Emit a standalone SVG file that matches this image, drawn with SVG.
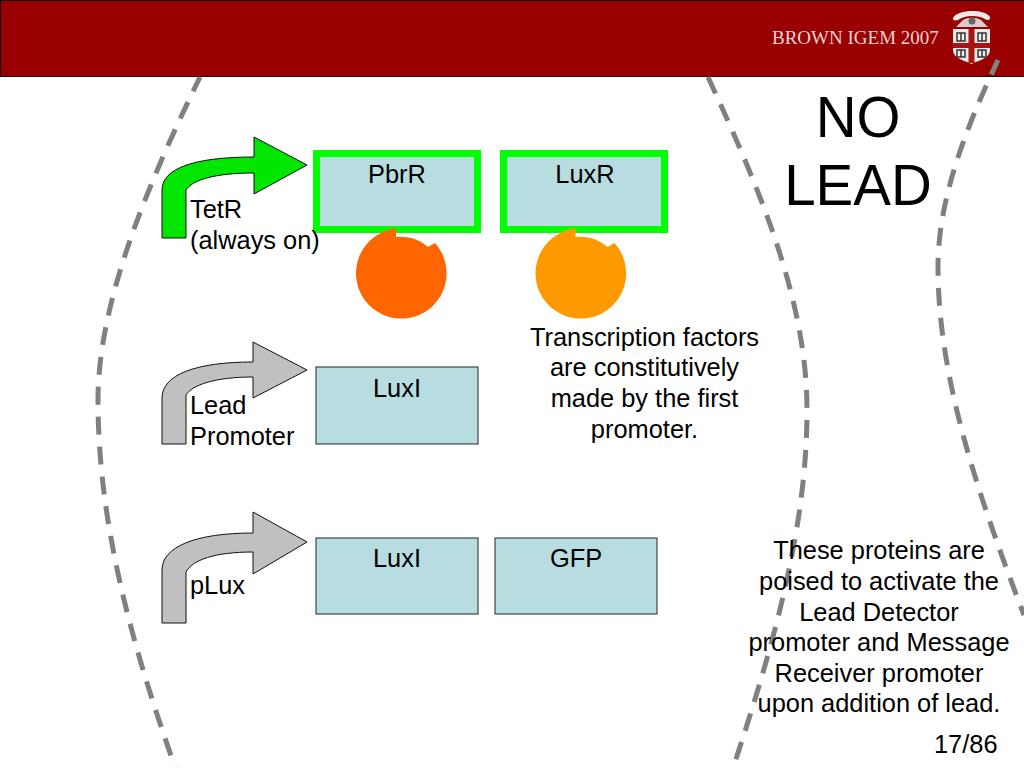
<svg xmlns="http://www.w3.org/2000/svg" width="1024" height="768" viewBox="0 0 1024 768">
<style>
text{font-family:"Liberation Sans",Arial,sans-serif;font-size:25.400px;fill:#000}
.m{text-anchor:middle}
.gene{fill:#b7dde0;stroke:#222;stroke-width:1}
.on{fill:#b7dde0;stroke:#00ff00;stroke-width:7}
.arc{fill:none;stroke:#808080;stroke-width:5;stroke-dasharray:18 12}
.prom{stroke:#111;stroke-width:1}
.book{fill:#eee;stroke:#333;stroke-width:1.500}
</style>
<defs>
<path id="prot" d="M435 243A45.300 45.300 0 1 1 396 228.300L396 237C410 236 420 240 428 247Z"/>
</defs>
<rect width="1024" height="768" fill="#fff"/>
<g id="header">
<rect x="0.500" y="0.500" width="1024" height="76" fill="#990000" stroke="#111" stroke-width="1"/>
<text x="772" y="44" style="font-family:'Liberation Serif',serif;font-size:19px;fill:#eed2d2">BROWN IGEM 2007</text>
<g id="logo">
<path d="M953 29H990V50C990 58 980 60 971.500 64C963 60 953 58 953 50Z" fill="#f2e8e8"/>
<path d="M968.500 29H974.500V43H990V48H974.500V63H968.500V48H953V43H968.500Z" fill="#a81414"/>
<path class="book" d="M957 33H965V41H957ZM961 33V41M978 33H986V41H978ZM982 33V41M957 50H965V57H957ZM961 50V57M978 50H986V57H978ZM982 50V57"/>
<path d="M953 18C958 9 985 9 990 17C991 20 987 21 985 19C978 15 965 15 958 20C955 21 952 20 953 18Z" fill="#f2e8e8"/>
<path d="M956 27L963 20C968 17 976 17 981 20L988 27Z" fill="#d8cccc"/>
<circle cx="972" cy="21" r="3.500" fill="#666"/>
</g>
</g>
<g id="dashes">
<path class="arc" stroke-dashoffset="2" d="M200 77C150 180 98 300 98 400C98 520 130 640 175 767"/>
<path class="arc" d="M708 77C760 190 807 300 807 410C807 530 772 650 733 768"/>
<path class="arc" stroke-dashoffset="2" d="M998 60C965 130 938 200 938 267C938 380 980 500 1024 615"/>
</g>
<g id="connectors">
<path class="prom" fill="#00e600" d="M162 238V190C162 168 195 157 254 157V137L307 165L254 194V173C215 173 192 180 186 190V238Z"/>
<path class="prom" fill="#c0c0c0" d="M162 444V398C162 375 195 362 253 362V342L307 370L253 398V377C215 377 192 385 186 395V444Z"/>
<path class="prom" fill="#c0c0c0" d="M162 623V570C162 547 195 533 253 533V512L307 542L253 574V552C215 552 192 560 186 572V623Z"/>
</g>
<g id="node-pbrr"><rect class="on" x="316.500" y="153.500" width="161" height="76"/><text class="m" x="397" y="183">PbrR</text></g>
<g id="node-luxr"><rect class="on" x="503.500" y="153.500" width="161" height="76"/><text class="m" x="585" y="183">LuxR</text></g>
<g id="protein-pbrr"><use href="#prot" fill="#ff6600"/></g>
<g id="protein-luxr"><use href="#prot" fill="#ff9900" x="179.500"/></g>
<g id="node-luxi-1"><rect class="gene" x="316" y="367" width="162" height="77"/><text class="m" x="397" y="397">LuxI</text></g>
<g id="node-luxi-2"><rect class="gene" x="316" y="538" width="162" height="76"/><text class="m" x="397" y="567">LuxI</text></g>
<g id="node-gfp"><rect class="gene" x="495" y="538" width="162" height="76"/><text class="m" x="576" y="567">GFP</text></g>
<g id="labels">
<text x="190" y="218">TetR</text><text x="190" y="249">(always on)</text>
<text x="190" y="414">Lead</text><text x="190" y="445">Promoter</text>
<text x="190" y="594">pLux</text>
<text class="m" x="644.500" y="346">Transcription factors</text>
<text class="m" x="644.500" y="376">are constitutively</text>
<text class="m" x="644.500" y="407">made by the first</text>
<text class="m" x="644.500" y="438">promoter.</text>
<text class="m" x="879" y="559">These proteins are</text>
<text class="m" x="879" y="590">poised to activate the</text>
<text class="m" x="879" y="621">Lead Detector</text>
<text class="m" x="879" y="651">promoter and Message</text>
<text class="m" x="879" y="682">Receiver promoter</text>
<text class="m" x="879" y="712">upon addition of lead.</text>
<text x="934" y="753">17/86</text>
<text class="m" x="858" y="137" style="font-size:56.500px">NO</text>
<text class="m" x="858" y="205" style="font-size:56.500px">LEAD</text>
</g>
</svg>
